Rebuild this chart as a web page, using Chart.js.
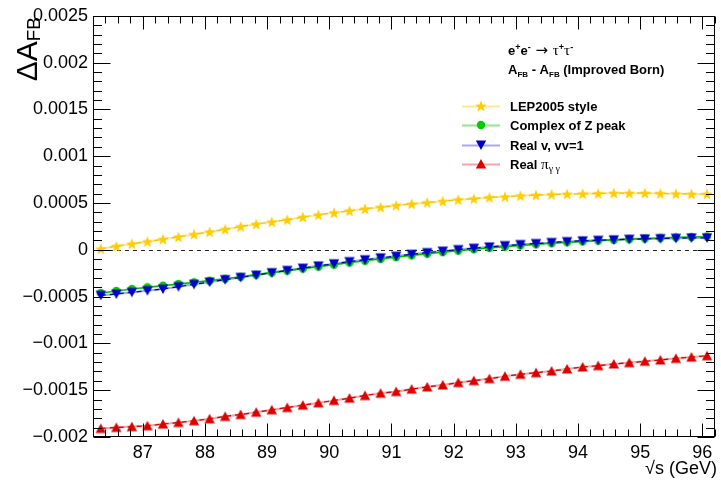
<!DOCTYPE html>
<html>
<head>
<meta charset="utf-8">
<script src="https://cdn.jsdelivr.net/npm/chart.js@4.4.1/dist/chart.umd.min.js"></script>
<style>
html,body{margin:0;padding:0;background:#fff;}
#c{display:block;}
</style>
</head>
<body>
<canvas id="c" width="721" height="480"></canvas>
<script>
// ---- data ----
const sqrtS = [86.325, 86.575, 86.825, 87.075, 87.325, 87.575, 87.825, 88.075, 88.325, 88.575,
  88.825, 89.075, 89.325, 89.575, 89.825, 90.075, 90.325, 90.575, 90.825, 91.075,
  91.325, 91.575, 91.825, 92.075, 92.325, 92.575, 92.825, 93.075, 93.325, 93.575,
  93.825, 94.075, 94.325, 94.575, 94.825, 95.075, 95.325, 95.575, 95.825, 96.075];

const lep2005Style = [0.000011, 0.000038, 0.000064, 0.000088, 0.000113, 0.000138, 0.000166, 0.000191, 0.000219, 0.000248,
  0.000274, 0.000298, 0.000321, 0.000349, 0.000374, 0.000396, 0.000417, 0.000438, 0.000455, 0.000474,
  0.000490, 0.000505, 0.000519, 0.000535, 0.000546, 0.000560, 0.000567, 0.000578, 0.000585, 0.000591,
  0.000596, 0.000599, 0.000602, 0.000606, 0.000606, 0.000606, 0.000602, 0.000599, 0.000596, 0.000596];

const complexZPeak = [-0.000462, -0.000440, -0.000419, -0.000401, -0.000383, -0.000366, -0.000348, -0.000330, -0.000309, -0.000288,
  -0.000266, -0.000244, -0.000223, -0.000201, -0.000180, -0.000158, -0.000137, -0.000117, -0.000097, -0.000078,
  -0.000060, -0.000042, -0.000025, -0.000009, 0.000006, 0.000020, 0.000034, 0.000047, 0.000059, 0.000070,
  0.000080, 0.000090, 0.000098, 0.000106, 0.000113, 0.000120, 0.000126, 0.000132, 0.000137, 0.000142];

const realVvv1 = [-0.000486, -0.000472, -0.000454, -0.000436, -0.000419, -0.000394, -0.000369, -0.000345, -0.000319, -0.000295,
  -0.000271, -0.000244, -0.000220, -0.000196, -0.000172, -0.000149, -0.000126, -0.000106, -0.000086, -0.000068,
  -0.000048, -0.000030, -0.000014, 0.000002, 0.000017, 0.000031, 0.000045, 0.000056, 0.000067, 0.000078,
  0.000088, 0.000096, 0.000102, 0.000107, 0.000113, 0.000117, 0.000120, 0.000123, 0.000127, 0.000128];

const realPiGG = [-0.001909, -0.001898, -0.001890, -0.001880, -0.001862, -0.001845, -0.001827, -0.001806, -0.001780, -0.001760,
  -0.001735, -0.001710, -0.001685, -0.001660, -0.001635, -0.001610, -0.001585, -0.001557, -0.001532, -0.001515,
  -0.001489, -0.001465, -0.001444, -0.001419, -0.001398, -0.001377, -0.001351, -0.001330, -0.001313, -0.001295,
  -0.001273, -0.001252, -0.001238, -0.001220, -0.001206, -0.001191, -0.001177, -0.001160, -0.001146, -0.001132];

const xTickLabels = [87, 88, 89, 90, 91, 92, 93, 94, 95, 96];
const yTickLabels = [-0.002, -0.0015, -0.001, -0.0005, 0, 0.0005, 0.001, 0.0015, 0.002, 0.0025];
const seriesNames = ['LEP2005 style', 'Complex of Z peak', 'Real v, vv=1', 'Real \u03c0'];

// ---- styles ----
const COL = {
  yellow: '#ffcc00', yellowLine: 'rgba(255,204,0,0.45)',
  green: '#00cc00', greenLine: 'rgba(0,204,0,0.45)',
  blue: '#0000cc', blueLine: 'rgba(40,40,220,0.4)',
  red: '#dd0000', redLine: 'rgba(230,30,30,0.4)'
};
function marker(type, color) {
  const s = type === 'circle' ? 10 : 12;
  const c = document.createElement('canvas');
  c.width = s; c.height = s;
  const g = c.getContext('2d');
  g.fillStyle = color;
  g.beginPath();
  const cx = s / 2, cy = s / 2;
  if (type === 'star') {
    for (let i = 0; i < 10; i++) {
      const r = i % 2 === 0 ? 6 : 2.5;
      const a = -Math.PI / 2 + i * Math.PI / 5;
      const px = cx + r * Math.cos(a), py = cy + 0.6 + r * Math.sin(a);
      i === 0 ? g.moveTo(px, py) : g.lineTo(px, py);
    }
  } else if (type === 'circle') {
    g.arc(cx, cy, 4.2, 0, Math.PI * 2);
  } else if (type === 'up') {
    g.moveTo(cx, 1); g.lineTo(s - 0.8, s - 1.5); g.lineTo(0.8, s - 1.5);
  } else if (type === 'down') {
    g.moveTo(cx, s - 1); g.lineTo(s - 0.8, 1.5); g.lineTo(0.8, 1.5);
  }
  g.closePath();
  g.fill();
  return c;
}
const mk = {
  star: marker('star', COL.yellow),
  circle: marker('circle', COL.green),
  down: marker('down', COL.blue),
  up: marker('up', COL.red)
};
const pts = arr => sqrtS.map((x, i) => ({x, y: arr[i]}));

function band(arr, col, order) {
  return {data: pts(arr), borderColor: col, borderWidth: 2.2, pointRadius: 0, fill: false, tension: 0, order};
}
function marks(arr, lineCol, img, order, dash) {
  return {data: pts(arr), borderColor: lineCol, borderWidth: 1.2, borderDash: dash, pointStyle: img,
    pointRadius: 5, pointHoverRadius: 5, fill: false, tension: 0, order};
}

const datasets = [
  band(lep2005Style, COL.yellowLine, 20),
  band(complexZPeak, COL.greenLine, 21),
  band(realVvv1, COL.blueLine, 22),
  band(realPiGG, COL.redLine, 23),
  marks(lep2005Style, '#f2c200', mk.star, 3, [5, 4]),
  marks(complexZPeak, '#00b000', mk.circle, 2, []),
  marks(realVvv1, '#0000b0', mk.down, 1, [5, 4]),
  marks(realPiGG, '#c80000', mk.up, 4, [5, 4])
];

function richText(ctx, x, y, segs) {
  let cx = x;
  for (const s of segs) {
    ctx.font = s.font;
    ctx.fillText(s.t, cx, y + (s.dy || 0));
    cx += ctx.measureText(s.t).width;
  }
}
function richWidth(ctx, segs) {
  let w = 0;
  for (const s of segs) { ctx.font = s.font; w += ctx.measureText(s.t).width; }
  return w;
}

const rootPlugin = {
  id: 'rootStyle',
  beforeDatasetsDraw(chart) {
    const {ctx, chartArea: a, scales: {y}} = chart;
    ctx.save();
    ctx.strokeStyle = '#222';
    ctx.lineWidth = 1;
    ctx.setLineDash([4, 4]);
    const py = Math.round(y.getPixelForValue(0)) + 0.5;
    ctx.beginPath(); ctx.moveTo(a.left, py); ctx.lineTo(a.right, py); ctx.stroke();
    ctx.restore();
  },
  afterDraw(chart) {
    const {ctx, chartArea: a, scales: {x, y}} = chart;
    ctx.save();
    ctx.strokeStyle = '#000';
    ctx.lineWidth = 1;
    const L = Math.round(a.left) + 0.5, R = Math.round(a.right) - 0.5;
    const T = Math.round(a.top) + 0.5, B = Math.round(a.bottom) - 0.5;
    ctx.beginPath();
    for (let i = -20; i <= 25; i++) {
      const py = Math.round(y.getPixelForValue(i * 0.0001)) + 0.5;
      const len = (i % 5 === 0) ? 17 : 8.5;
      ctx.moveTo(L, py); ctx.lineTo(L + len, py);
      ctx.moveTo(R, py); ctx.lineTo(R - len, py);
    }
    for (let i = 432; i <= 481; i++) {
      const v = i * 0.2;
      const px = Math.round(x.getPixelForValue(v)) + 0.5;
      const len = (i % 5 === 0) ? 13 : 7;
      ctx.moveTo(px, B); ctx.lineTo(px, B - len);
      ctx.moveTo(px, T); ctx.lineTo(px, T + len);
    }
    ctx.stroke();
    ctx.strokeRect(L, T, R - L, B - T);

    // axis titles
    ctx.fillStyle = '#000';
    ctx.textBaseline = 'alphabetic';
    ctx.font = '18px "Liberation Sans", Arial, sans-serif';
    ctx.textAlign = 'right';
    ctx.fillText('\u221As (GeV)', 717, 474);
    ctx.textAlign = 'left';

    ctx.save();
    ctx.translate(37, 17);
    ctx.rotate(-Math.PI / 2);
    const ySegs = [
      {t: '\u0394A', font: '30px "Liberation Sans", Arial, sans-serif'},
      {t: 'FB', font: '19px "Liberation Sans", Arial, sans-serif', dy: 3}
    ];
    richText(ctx, -richWidth(ctx, ySegs), 0, ySegs);
    ctx.restore();

    // header texts
    const B13 = 'bold 13px "Liberation Sans", Arial, sans-serif';
    const B9 = 'bold 9px "Liberation Sans", Arial, sans-serif';
    const R15 = '15px "Liberation Serif", "DejaVu Serif", serif';
    const B8 = 'bold 8px "Liberation Sans", Arial, sans-serif';
    richText(ctx, 508, 55, [
      {t: 'e', font: B13}, {t: '+', font: B9, dy: -5}, {t: 'e', font: B13}, {t: '-', font: B9, dy: -5},
      {t: ' \u2192 ', font: '15px "DejaVu Sans", sans-serif'},
      {t: '\u03c4', font: R15}, {t: '+', font: B9, dy: -5}, {t: '\u03c4', font: R15}, {t: '-', font: B9, dy: -5}
    ]);
    richText(ctx, 508, 74, [
      {t: 'A', font: B13}, {t: 'FB', font: B8, dy: 3}, {t: ' - A', font: B13}, {t: 'FB', font: B8, dy: 3},
      {t: ' (Improved Born)', font: B13}
    ]);

    // legend
    const rows = [
      {name: seriesNames[0], line: COL.yellowLine, img: mk.star, yc: 106},
      {name: seriesNames[1], line: COL.greenLine, img: mk.circle, yc: 125},
      {name: seriesNames[2], line: COL.blueLine, img: mk.down, yc: 145},
      {name: seriesNames[3], line: COL.redLine, img: mk.up, yc: 164}
    ];
    for (const r of rows) {
      ctx.strokeStyle = r.line;
      ctx.lineWidth = 2;
      ctx.beginPath(); ctx.moveTo(462, r.yc + 0.5); ctx.lineTo(500, r.yc + 0.5); ctx.stroke();
      ctx.drawImage(r.img, 481 - r.img.width / 2, r.yc - r.img.height / 2);
      ctx.fillStyle = '#000';
      if (r.name === seriesNames[3]) {
        richText(ctx, 510, r.yc + 5, [
          {t: 'Real ', font: B13},
          {t: '\u03c0', font: '15px "Liberation Serif", "DejaVu Serif", serif'},
          {t: '\u03b3 \u03b3', font: '10px "Liberation Serif", "DejaVu Serif", serif', dy: 3}
        ]);
      } else {
        richText(ctx, 510, r.yc + 5, [{t: r.name, font: B13}]);
      }
    }
    ctx.restore();
  }
};

function fmtY(v) {
  if (Math.abs(v) < 1e-12) return '0';
  const s = parseFloat(Math.abs(v).toFixed(4)).toString();
  return (v < 0 ? '\u2212' : '') + s;
}

new Chart(document.getElementById('c'), {
  type: 'line',
  data: {datasets},
  options: {
    responsive: false,
    devicePixelRatio: 1,
    animation: false,
    events: [],
    layout: {padding: {top: 14, right: 4, left: 0, bottom: 0}},
    plugins: {legend: {display: false}, tooltip: {enabled: false}},
    scales: {
      x: {
        type: 'linear', min: 86.2, max: 96.2,
        grid: {display: false, drawTicks: false, tickLength: 0}, border: {display: false},
        afterBuildTicks: s => { s.ticks = xTickLabels.map(v => ({value: v})); },
        afterFit: s => { s.height = 43; },
        ticks: {color: '#000', padding: 5, maxRotation: 0, autoSkip: false,
          font: {family: '"Liberation Sans", Arial, sans-serif', size: 18},
          callback: v => String(v)}
      },
      y: {
        type: 'linear', min: -0.002, max: 0.0025,
        grid: {display: false, drawTicks: false, tickLength: 0}, border: {display: false},
        afterBuildTicks: s => { s.ticks = yTickLabels.map(v => ({value: v})); },
        afterFit: s => { s.width = 93; },
        ticks: {color: '#000', padding: 5, autoSkip: false,
          font: {family: '"Liberation Sans", Arial, sans-serif', size: 18},
          callback: v => fmtY(v)}
      }
    }
  },
  plugins: [rootPlugin]
});
</script>
</body>
</html>
